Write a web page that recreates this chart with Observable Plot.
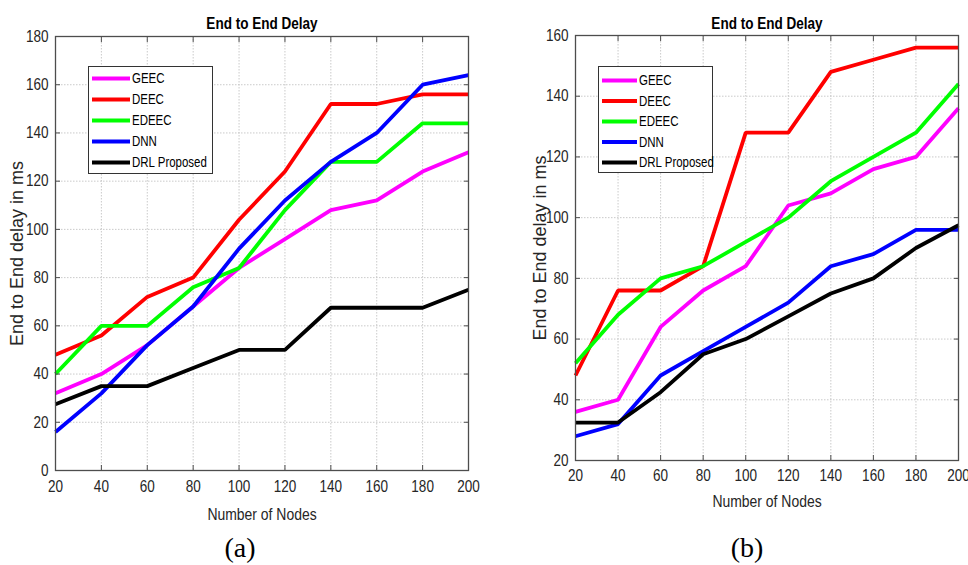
<!DOCTYPE html>
<html>
<head>
<meta charset="utf-8">
<script src="https://cdn.jsdelivr.net/npm/d3@7"></script>
<script src="https://cdn.jsdelivr.net/npm/@observablehq/plot@0.6"></script>
<style>
  html, body { margin: 0; padding: 0; background: #fff; }
  #wrap { position: relative; width: 968px; height: 565px; overflow: hidden; }
  #wrap > svg { position: absolute; top: 0; }
  .legend { position: absolute; background: #fff; border: 1px solid #333; box-sizing: border-box; }
  .legend svg { display: block; overflow: visible; }
</style>
</head>
<body>
<div id="wrap"></div>
<script>
// ---- data ----
const nodes = [20, 40, 60, 80, 100, 120, 140, 160, 180, 200];
const seriesNames = ["GEEC", "DEEC", "EDEEC", "DNN", "DRL Proposed"];
const seriesColors = ["#ff00ff", "#ff0000", "#00ff00", "#0000ff", "#000000"];

// panel (a)
const aGEEC  = [32, 40, 52, 68, 84, 96, 108, 112, 124, 132];
const aDEEC  = [48, 56, 72, 80, 104, 124, 152, 152, 156, 156];
const aEDEEC = [40, 60, 60, 76, 84, 108, 128, 128, 144, 144];
const aDNN   = [16, 32, 52, 68, 92, 112, 128, 140, 160, 164];
const aDRL   = [27.5, 35, 35, 42.5, 50, 50, 67.5, 67.5, 67.5, 75];

// panel (b)
const bGEEC  = [36, 40, 64, 76, 84, 104, 108, 116, 120, 136];
const bDEEC  = [48, 76, 76, 84, 128, 128, 148, 152, 156, 156];
const bEDEEC = [52, 68, 80, 84, 92, 100, 112, 120, 128, 144];
const bDNN   = [28, 32, 48, 56, 64, 72, 84, 88, 96, 96];
const bDRL   = [32.5, 32.5, 42.5, 55, 60, 67.5, 75, 80, 90, 97.5];

const xTicks = [20, 40, 60, 80, 100, 120, 140, 160, 180, 200];
const yTicksA = [0, 20, 40, 60, 80, 100, 120, 140, 160, 180];
const yTicksB = [20, 40, 60, 80, 100, 120, 140, 160];

const titleText = "End to End Delay";
const xLabelText = "Number of Nodes";
const yLabelText = "End to End delay in ms";

// ---- build ----
const SANS = "'Liberation Sans', Arial, Helvetica, sans-serif";
const SQUEEZE = 0.82; // reference text looks horizontally condensed

function tidy(seriesArrays) {
  const rows = [];
  seriesArrays.forEach((vals, i) => {
    vals.forEach((v, j) => rows.push({series: seriesNames[i], nodes: nodes[j], delay: v}));
  });
  return rows;
}

function panel(o) {
  const blank = () => "";
  return Plot.plot({
    width: o.width, height: 565,
    marginLeft: o.ml, marginRight: o.mr, marginTop: o.mt, marginBottom: o.mb,
    x: {domain: [20, 200]},
    y: {domain: o.yDomain},
    color: {domain: seriesNames, range: seriesColors},
    style: {fontFamily: SANS, fontSize: "16.5px", color: "#262626", background: "transparent", overflow: "visible"},
    marks: [
      Plot.gridX(xTicks, {stroke: "#bdbdbd", strokeOpacity: 1, strokeWidth: 0.8, strokeDasharray: "1.5,1.5"}),
      Plot.gridY(o.yTicks, {stroke: "#bdbdbd", strokeOpacity: 1, strokeWidth: 0.8, strokeDasharray: "1.5,1.5"}),
      Plot.line(o.rows, {x: "nodes", y: "delay", z: "series", stroke: "series", strokeWidth: 3.8, strokeLinejoin: "miter", strokeLinecap: "butt"}),
      Plot.frame({stroke: "#4d4d4d", strokeWidth: 1.3}),
      Plot.axisX(xTicks, {anchor: "bottom", tickSize: 0, tickPadding: o.xPad, label: null}),
      Plot.axisX(xTicks, {anchor: "bottom", tickSize: -5, tickFormat: blank, label: null, stroke: "#4d4d4d"}),
      Plot.axisX(xTicks, {anchor: "top", tickSize: -5, tickFormat: blank, label: null, stroke: "#4d4d4d"}),
      Plot.axisY(o.yTicks, {anchor: "left", tickSize: 0, tickPadding: 7, label: null}),
      Plot.axisY(o.yTicks, {anchor: "left", tickSize: -5, tickFormat: blank, label: null, stroke: "#4d4d4d"}),
      Plot.axisY(o.yTicks, {anchor: "right", tickSize: -5, tickFormat: blank, label: null, stroke: "#4d4d4d"}),
      Plot.text([titleText], {frameAnchor: "top", textAnchor: "middle", lineAnchor: "middle", dy: o.titleDy, fontWeight: "bold", fontSize: 16.5, fill: "#000"}),
      Plot.text([xLabelText], {frameAnchor: "bottom", textAnchor: "middle", lineAnchor: "middle", dy: o.xLabDy, fontSize: 17, fill: "#262626"}),
      Plot.text([yLabelText], {frameAnchor: "left", textAnchor: "middle", lineAnchor: "middle", dx: o.yLabDx, rotate: -90, fontSize: 18, fill: "#262626"}),
      Plot.text([o.caption], {frameAnchor: "bottom", textAnchor: "middle", lineAnchor: "middle", dx: o.capDx, dy: o.capDy, fontSize: 28, fontFamily: "'Liberation Serif', 'Times New Roman', serif", fill: "#000"})
    ]
  });
}

// condense horizontal sans text (not the rotated y label, not the serif caption)
function squeeze(root) {
  root.querySelectorAll("text").forEach(t => {
    const txt = t.textContent;
    if (!txt || txt === yLabelText || txt.startsWith("(")) return;
    const L = t.getComputedTextLength();
    if (L > 0) {
      t.setAttribute("textLength", (L * SQUEEZE).toFixed(2));
      t.setAttribute("lengthAdjust", "spacingAndGlyphs");
    }
  });
}

const wrap = document.getElementById("wrap");

const svgA = panel({
  rows: tidy([aGEEC, aDEEC, aEDEEC, aDNN, aDRL]),
  yDomain: [0, 180], yTicks: yTicksA,
  width: 484, ml: 55, mr: 16, mt: 36, mb: 95,
  xPad: 10, titleDy: -13, xLabDy: 44, yLabDx: -38,
  caption: "(a)", capDx: -22, capDy: 78
});
svgA.style.left = "0px";
wrap.appendChild(svgA);

const svgB = panel({
  rows: tidy([bGEEC, bDEEC, bEDEEC, bDNN, bDRL]),
  yDomain: [20, 160], yTicks: yTicksB,
  width: 484, ml: 91, mr: 10, mt: 35, mb: 105,
  xPad: 9, titleDy: -12, xLabDy: 41, yLabDx: -35,
  caption: "(b)", capDx: -20, capDy: 88
});
svgB.style.left = "484px";
wrap.appendChild(svgB);

// ---- legends ----
function legend(o) {
  const div = document.createElement("div");
  div.className = "legend";
  Object.assign(div.style, {left: o.left + "px", top: o.top + "px", width: o.w + "px", height: o.h + "px"});
  const svg = d3.create("svg").attr("width", o.w - 2).attr("height", o.h - 2);
  seriesNames.forEach((name, i) => {
    const y = o.y0 + i * o.step;
    svg.append("line").attr("x1", o.sx1).attr("x2", o.sx2).attr("y1", y).attr("y2", y)
      .attr("stroke", seriesColors[i]).attr("stroke-width", 3.8);
    svg.append("text").attr("x", o.tx).attr("y", y).attr("dy", "0.35em")
      .attr("font-family", SANS).attr("font-size", 14).attr("fill", "#000").text(name);
  });
  div.appendChild(svg.node());
  wrap.appendChild(div);
  return div;
}
const legA = legend({left: 88, top: 66, w: 125, h: 108, y0: 11.5, step: 21, sx1: 3, sx2: 41, tx: 43});
const legB = legend({left: 598, top: 66, w: 115, h: 107, y0: 13.5, step: 20.5, sx1: 3, sx2: 38, tx: 40});

[svgA, svgB, legA, legB].forEach(squeeze);
</script>
</body>
</html>
